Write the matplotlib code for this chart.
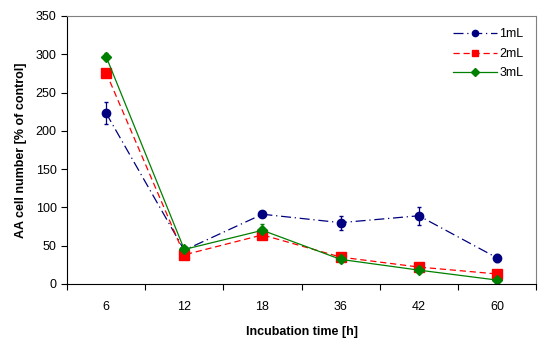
import matplotlib.pyplot as plt
from matplotlib.lines import Line2D
import numpy as np

plt.rcParams['font.family'] = ['Liberation Sans', 'DejaVu Sans']

times = ['6', '12', '18', '36', '42', '60']
ml1 = [223, 44, 91, 80, 89, 34]
ml1_err = [14, 3, 4, 9, 12, 5]
ml2 = [276, 38, 64, 35, 22, 13]
ml2_err = [5, 3, 4, 3, 3, 2]
ml3 = [297, 45, 70, 32, 18, 5]
ml3_err = [4, 3, 8, 3, 3, 2]

x = np.arange(len(times))

fig = plt.figure(figsize=(5.48, 3.4), dpi=100)
ax = fig.add_axes([0.1223, 0.165, 0.856, 0.788])

styles = [
    (ml1, ml1_err, '#000080', (0, (8, 3, 1, 3)), 'o', 6, '1mL'),
    (ml2, ml2_err, '#FF0000', (0, (5, 3)), 's', 6.5, '2mL'),
    (ml3, ml3_err, '#008000', '-', 'D', 5, '3mL'),
]
handles = []
for vals, err, col, ls, mk, ms, lab in styles:
    ax.errorbar(x, vals, yerr=err, color=col, linestyle=ls, lw=0.9,
                marker=mk, ms=ms, capsize=1.5, elinewidth=0.9)
    handles.append(Line2D([], [], color=col, linestyle=ls, lw=0.9,
                          marker=mk, ms=ms * 0.75, label=lab))

ax.set_xlim(-0.5, len(times) - 0.5)
ax.set_ylim(0, 350)
ax.set_yticks(np.arange(0, 351, 50))
ax.set_xticks(np.arange(-0.5, len(times)), minor=False)
ax.set_xticklabels([])
ax.set_xticks(x, minor=True)
ax.set_xticklabels(times, minor=True)
ax.tick_params(axis='x', which='minor', length=0, pad=12, labelsize=9)
ax.tick_params(axis='x', which='major', length=4, direction='out')
ax.tick_params(axis='y', length=4, direction='out', labelsize=9)

for s in ['top', 'right']:
    ax.spines[s].set_color('#808080')
for s in ['left', 'bottom']:
    ax.spines[s].set_color('black')

ax.set_xlabel('Incubation time [h]', fontweight='bold', fontsize=9, labelpad=10)
ax.set_ylabel('AA cell number [% of control]', fontweight='bold', fontsize=9, labelpad=6)

ax.legend(handles=handles, loc='upper right', frameon=False, fontsize=9,
          handlelength=3.5, handletextpad=0.2, borderaxespad=0.6, labelspacing=0.6)

fig.savefig('out.png', dpi=100)
